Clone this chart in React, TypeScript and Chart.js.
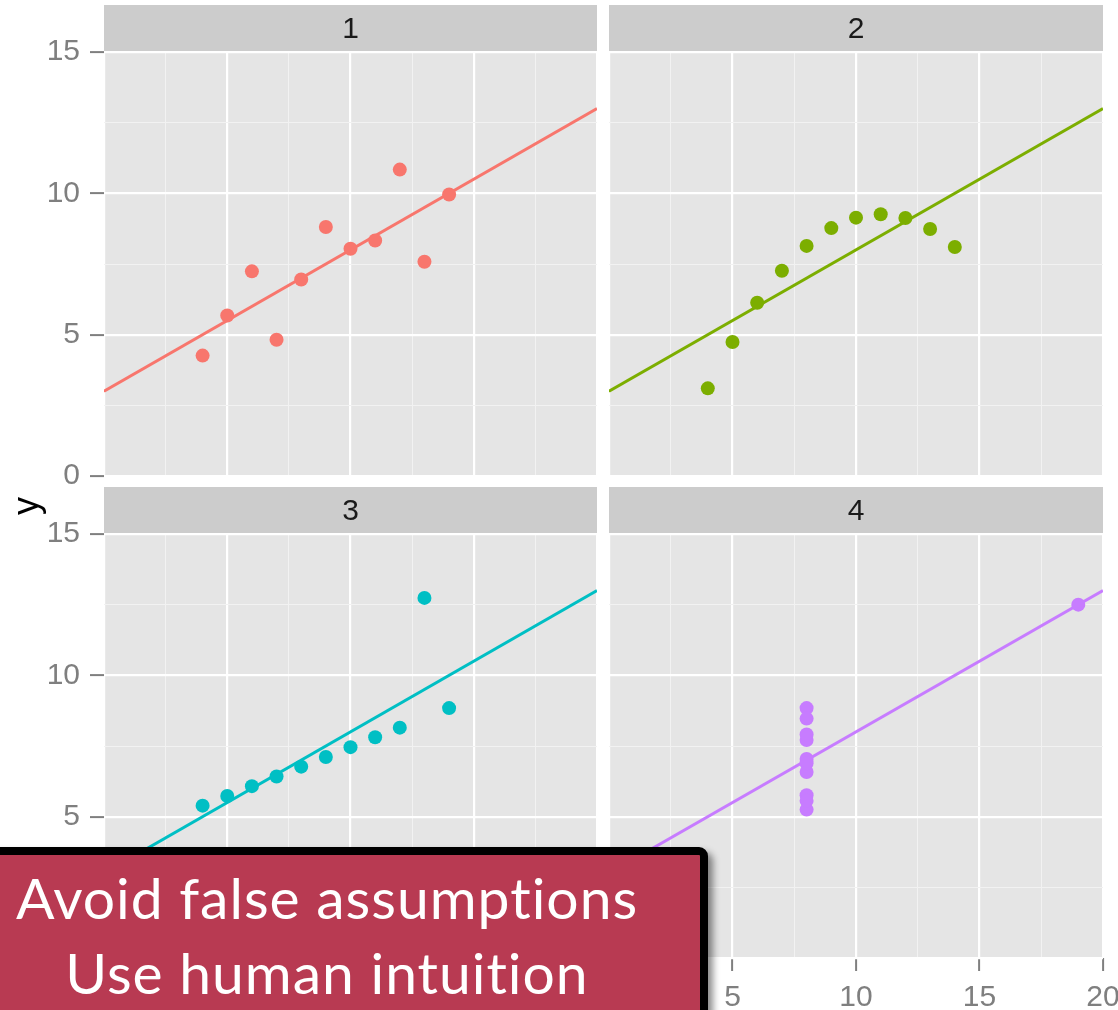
import React, { useEffect, useRef } from "react";
import { Chart, registerables } from "chart.js";

Chart.register(...registerables);

// Anscombe's quartet
const x123: number[] = [10, 8, 13, 9, 11, 14, 6, 4, 12, 7, 5];
const y1: number[] = [8.04, 6.95, 7.58, 8.81, 8.33, 9.96, 7.24, 4.26, 10.84, 4.82, 5.68];
const y2: number[] = [9.14, 8.14, 8.74, 8.77, 9.26, 8.1, 6.13, 3.1, 9.13, 7.26, 4.74];
const y3: number[] = [7.46, 6.77, 12.74, 7.11, 7.81, 8.84, 6.08, 5.39, 8.15, 6.42, 5.73];
const x4: number[] = [8, 8, 8, 8, 8, 8, 8, 19, 8, 8, 8];
const y4: number[] = [6.58, 5.76, 7.71, 8.84, 8.47, 7.04, 5.25, 12.5, 5.56, 7.91, 6.89];

// fitted line y = 3 + 0.5x, endpoints of the panel range
const fitX: number[] = [0, 20];
const fitY: number[] = [3, 13];

const panelLabels: string[] = ["1", "2", "3", "4"];
const panelColors: string[] = ["#F8766D", "#7CAE00", "#00BFC4", "#C77CFF"];
const panelXs: number[][] = [x123, x123, x123, x4];
const panelYs: number[][] = [y1, y2, y3, y4];

const X_MIN = 0, X_MAX = 20, Y_MIN = 0, Y_MAX = 15, STEP = 2.5, MAJOR = 5;

const W = 1160, H = 1010;
const areas = [
  { l: 104, t: 52, r: 597, b: 476 },
  { l: 609, t: 52, r: 1103, b: 476 },
  { l: 104, t: 534, r: 597, b: 958 },
  { l: 609, t: 534, r: 1103, b: 958 },
];
const FONT = "'Liberation Sans', Arial, Helvetica, sans-serif";
const X_AXIS_H = 52;

function isMajor(v: number) {
  return Math.abs(v % MAJOR) < 1e-9;
}

function Panel({ idx }: { idx: number }) {
  const ref = useRef<HTMLCanvasElement>(null);
  useEffect(() => {
    const a = areas[idx];
    const showY = idx % 2 === 0;
    const showX = idx >= 2;
    const color = panelColors[idx];
    const xs = panelXs[idx];
    const ys = panelYs[idx];

    const gridOpts = (show: boolean) => ({
      color: (ctx: any) => (ctx.tick && isMajor(ctx.tick.value) ? "#FFFFFF" : "#F2F2F2"),
      lineWidth: (ctx: any) => (ctx.tick && isMajor(ctx.tick.value) ? 2.2 : 1),
      drawTicks: show,
      tickColor: (ctx: any) => (ctx.tick && isMajor(ctx.tick.value) ? "#7F7F7F" : "rgba(0,0,0,0)"),
      tickWidth: 2,
      tickLength: 14,
    });

    const decor = {
      id: "decor" + idx,
      beforeDraw(chart: any) {
        const c = chart.ctx;
        const ca = chart.chartArea;
        c.save();
        c.fillStyle = "#E5E5E5";
        c.fillRect(ca.left, ca.top, ca.right - ca.left, ca.bottom - ca.top);
        c.fillStyle = "#CCCCCC";
        c.fillRect(ca.left, ca.top - 47, ca.right - ca.left, 46);
        c.fillStyle = "#1A1A1A";
        c.font = "30px " + FONT;
        c.textAlign = "center";
        c.textBaseline = "middle";
        c.fillText(panelLabels[idx], (ca.left + ca.right) / 2, ca.top - 22);
        c.restore();
      },
    };

    const chart = new Chart(ref.current as HTMLCanvasElement, {
      type: "scatter",
      data: {
        datasets: [
          {
            type: "scatter",
            data: xs.map((x, i) => ({ x, y: ys[i] })),
            backgroundColor: color,
            borderColor: color,
            borderWidth: 0,
            pointRadius: 7,
            order: 0,
          } as any,
          {
            type: "line",
            data: fitX.map((x, i) => ({ x, y: fitY[i] })),
            borderColor: color,
            borderWidth: 3,
            pointRadius: 0,
            fill: false,
            order: 1,
          } as any,
        ],
      },
      options: {
        responsive: false,
        animation: false,
        events: [],
        layout: {
          padding: {
            left: showY ? 0 : a.l,
            right: W - a.r,
            top: a.t,
            bottom: showX ? H - a.b - X_AXIS_H : H - a.b,
          },
        },
        plugins: { legend: { display: false }, tooltip: { enabled: false } },
        scales: {
          x: {
            type: "linear",
            position: "bottom",
            min: X_MIN,
            max: X_MAX,
            border: { display: false },
            grid: { ...gridOpts(showX), tickLength: 13 } as any,
            ticks: {
              display: showX,
              stepSize: STEP,
              autoSkip: false,
              maxRotation: 0,
              padding: 9,
              color: "#7F7F7F",
              font: { family: FONT, size: 30 },
              callback: (v: any) => (isMajor(Number(v)) ? String(v) : ""),
            },
            afterFit: (s: any) => {
              s.height = showX ? X_AXIS_H : 0;
            },
          },
          y: {
            type: "linear",
            position: "left",
            min: Y_MIN,
            max: Y_MAX,
            border: { display: false },
            grid: gridOpts(showY) as any,
            ticks: {
              display: showY,
              stepSize: STEP,
              autoSkip: false,
              padding: 10,
              color: "#7F7F7F",
              font: { family: FONT, size: 30 },
              callback: (v: any) => (isMajor(Number(v)) ? String(v) : ""),
            },
            afterFit: (s: any) => {
              s.width = showY ? a.l : 0;
            },
          },
        },
      },
      plugins: [decor],
    });
    return () => chart.destroy();
  }, [idx]);
  return (
    <canvas
      ref={ref}
      width={W}
      height={H}
      style={{ position: "absolute", left: 0, top: 0, width: W, height: H }}
    />
  );
}

export default function App() {
  return (
    <div
      style={{
        position: "absolute",
        left: 0,
        top: 0,
        width: 1118,
        height: 1010,
        overflow: "hidden",
        background: "#FFFFFF",
      }}
    >
      {[0, 1, 2, 3].map((i) => (
        <Panel key={i} idx={i} />
      ))}
      <div
        style={{
          position: "absolute",
          left: 26,
          top: 506,
          transform: "translate(-50%, -50%) rotate(-90deg)",
          fontFamily: FONT,
          fontSize: 36,
          color: "#000000",
          lineHeight: 1,
        }}
      >
        y
      </div>
      <div
        style={{
          position: "absolute",
          left: -60,
          top: 847,
          width: 752,
          height: 300,
          background: "#B83A52",
          border: "8px solid #000000",
          borderRadius: 9,
          boxShadow: "5px 5px 7px rgba(0,0,0,0.45)",
        }}
      />
      <div
        style={{
          position: "absolute",
          left: 0,
          top: 860,
          width: 654,
          textAlign: "center",
          fontFamily: "Lato, 'Open Sans', sans-serif",
          fontSize: 57,
          letterSpacing: 1,
          fontVariantLigatures: "none",
          fontFeatureSettings: "'liga' 0",
          lineHeight: "75px",
          color: "#FFFFFF",
          whiteSpace: "nowrap",
        }}
      >
        <div>Avoid false assumptions</div>
        <div>Use human intuition</div>
      </div>
    </div>
  );
}
